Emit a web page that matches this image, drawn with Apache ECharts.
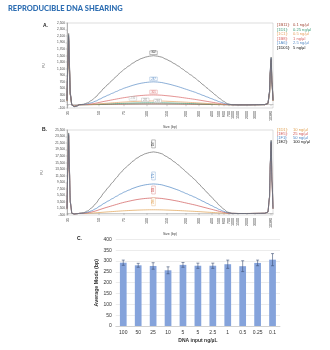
<!DOCTYPE html>
<html><head><meta charset="utf-8">
<script src="https://cdn.jsdelivr.net/npm/echarts@6/dist/echarts.min.js"></script>
<style>html,body{margin:0;padding:0;background:#fff}#c{width:330px;height:350px}</style>
</head><body><div id="c"></div>
<script>
// ---- shared migration-time grid (arbitrary units, 0..100) ----
const timeSec = [0,0.4,0.8,1.2,1.6,2.4,3.5,5,
 6,8,10,12,14,16,18,20,22,24,26,28,30,32,34,36,38,40,42,44,46,48,50,52,54,56,58,60,62,64,66,68,70,72,74,76,78,80,
 84,88,92,96, 97.5,98.3,98.7,99.1,99.5,100];
// ladder positions (time) and sizes (bp)
const ladderPos  = [0.6,15.5,27.7,38.8,48.5,57.8,64,70.4,73.8,76.2,78.6,80.6,83,87.4,91.3,99];
const ladderSize = ['35','50','75','100','150','200','300','400','500','600','700','1000','1500','2000','3000','10380'];

// ---- Panel A traces (FU) ----
const a_5   = [150,1300,2180,1200,350,-10,-60,-40, 0,15,60,135,240,375,510,630,750,870,990,1095,1185,1275,1350,1410,1455,1485,1500,1485,1455,1395,1335,1260,1185,1095,1005,915,825,720,615,510,405,300,195,105,30,0, -5,-5,0,5, 40,400,1100,1460,700,150];
const a_2_5 = [140,1250,2120,1150,330,-15,-55,-35, 0,7,28,63,112,175,238,294,350,406,462,511,553,595,630,658,679,693,700,693,679,651,623,588,553,511,469,427,385,336,287,238,189,140,91,49,14,0, -5,-4,0,4, 38,380,1060,1430,680,140];
const a_1   = [130,1200,2080,1120,320,-15,-50,-30, 0,3,12,27,48,75,102,126,150,174,198,219,237,255,270,282,291,297,300,297,291,279,267,252,237,219,201,183,165,144,123,102,81,60,39,21,6,0, -4,-3,0,3, 36,360,1020,1400,660,130];
const a_0_5 = [120,1150,2040,1090,310,-15,-45,-25, 0,1,5,10,18,29,39,48,58,67,76,84,91,98,104,108,112,114,115,114,112,107,102,97,91,84,77,70,63,55,47,39,31,23,15,8,2,0, -3,-2,0,3, 35,350,1000,1380,650,125];
const a_0_25= [115,1100,2000,1060,300,-15,-45,-25, 0,1,2,5,10,15,20,25,30,35,40,44,47,51,54,56,58,59,60,59,58,56,53,50,47,44,40,37,33,29,25,20,16,12,8,4,1,0, -3,-2,0,2, 34,340,980,1360,640,120];
const a_0_1 = [110,1080,1960,1040,290,-15,-40,-20, 0,0,1,3,4,7,10,12,14,16,18,20,22,24,25,26,27,28,28,28,27,26,25,24,22,20,19,17,15,13,11,10,8,6,4,2,1,0, -2,-2,0,2, 33,330,960,1340,630,115];

// ---- Panel B traces (FU) ----
const b_100 = [1500,14000,24600,13000,3500,0,-200,-100, 0,190,750,1690,3010,4700,6390,7900,9400,10900,12410,13720,14850,15980,16920,17670,18240,18610,18800,18610,18240,17480,16730,15790,14850,13720,12600,11470,10340,9020,7710,6390,5080,3760,2440,1320,380,0, -50,-50,0,50, 400,5000,16000,22400,10000,1500];
const b_50  = [1450,13600,24200,12700,3400,0,-200,-100, 0,90,360,810,1440,2250,3060,3780,4500,5220,5940,6570,7110,7650,8100,8460,8730,8910,9000,8910,8730,8370,8010,7560,7110,6570,6030,5490,4950,4320,3690,3060,2430,1800,1170,630,180,0, -50,-40,0,40, 380,4800,15600,22000,9800,1450];
const b_25  = [1400,13300,23900,12500,3300,0,-180,-90, 0,47,188,423,752,1175,1598,1974,2350,2726,3102,3431,3713,3995,4230,4418,4559,4653,4700,4653,4559,4371,4183,3948,3713,3431,3149,2867,2585,2256,1927,1598,1269,940,611,329,94,0, -40,-40,0,40, 370,4700,15300,21700,9600,1400];
const b_10  = [1350,13000,23600,12300,3200,0,-180,-90, 0,11,44,99,176,275,374,462,550,638,726,803,869,935,990,1034,1067,1089,1100,1089,1067,1023,979,924,869,803,737,671,605,528,451,374,297,220,143,77,22,0, -40,-30,0,30, 360,4600,15000,21400,9400,1350];

// legends
const legendCodesA = ['[1B11]:','[1D1]:','[1C1]:','[1B8]:','[1A6]:','[1D01]:'];
const legendDosesA = ['0.1 ng/\u00b5l','0.25 ng/\u00b5l','0.5 ng/\u00b5l','1 ng/\u00b5l','2.5 ng/\u00b5l','5 ng/\u00b5l'];
const legendCodesB = ['[1D1]:','[1E5]:','[1F1]:','[1E2]:'];
const legendDosesB = ['10 ng/\u00b5l','25 ng/\u00b5l','50 ng/\u00b5l','100 ng/\u00b5l'];
// peak mode labels (bp)
const peakLabelsA = ['298','281','231','301','287','302'];
const peakLabelsB = ['296','284','279','297'];

// ---- Panel C ----
const inputs = ['100','50','25','10','5','5','2.5','1','0.5','0.25','0.1'];
const modeMean = [292,280,277,257,282,278,278,285,276,291,306];
const modeErr  = [12,9,15,16,11,12,12,19,25,13,28];

const colA = ['#a34a3a','#3b9c78','#e7a264','#d86464','#5a8dc6','#6a6a6a'];
const colB = ['#e0a050','#d05858','#4f86c4','#6a6a6a'];

const chart = echarts.init(document.getElementById('c'), null, {renderer:'canvas'});

function traceAxes(min, max, step) {
  const yv = []; for (let v = min; v <= max; v += step) yv.push(v);
  return {
    x: {type:'value', gridIndex:0, min:0, max:100,
      name:'Size (bp)', nameLocation:'middle', nameGap:10, nameTextStyle:{fontSize:3.5,color:'#444'},
      axisLine:{lineStyle:{color:'#999',width:0.5}},
      axisTick:{show:true, customValues:ladderPos, length:1.5, lineStyle:{color:'#777',width:0.4}},
      axisLabel:{customValues:ladderPos, rotate:90, fontSize:3.6, color:'#333', margin:3,
        formatter:v=>{const i=ladderPos.indexOf(v);return i>=0?ladderSize[i]:'';}},
      splitLine:{show:false}},
    y: {type:'value', min:min, max:max,
      name:'FU', nameLocation:'middle', nameGap:12, nameTextStyle:{fontSize:3.5,color:'#444'},
      axisLine:{show:true,lineStyle:{color:'#888',width:0.6}},
      axisTick:{show:true, customValues:yv, length:1.5, lineStyle:{color:'#888',width:0.4}},
      axisLabel:{customValues:yv, fontSize:3.2, color:'#444', margin:2},
      splitLine:{show:false}}
  };
}
const axA = traceAxes(-100, 2500, 200);
const axB = traceAxes(-500, 25500, 2000);
axB.x.gridIndex = 1;

function pts(arr){ return timeSec.map((t,i)=>[t,arr[i]]); }
function peakIdx(arr){ let bi=8; for(let i=8;i<46;i++) if(arr[i]>arr[bi]) bi=i; return bi; }

function trace(arr, color, xi, label, labIdx, vertical, lblColor) {
  const i = labIdx != null ? labIdx : peakIdx(arr);
  return {type:'line', xAxisIndex:xi, yAxisIndex:xi, data:pts(arr), showSymbol:false,
    smooth:0.25, smoothMonotone:'x', lineStyle:{color:color,width:0.7}, z:3,
    markPoint:{symbol:'rect', symbolSize: vertical?[3.6,8]:[7.5,3.6], symbolOffset: vertical?[0,-8]:[0,-3],
      itemStyle:{color:'#fff',borderColor:lblColor||color,borderWidth:0.3},
      label:{show:true, formatter:label, fontSize:2.8, color:lblColor||color, rotate: vertical?90:0},
      data:[{coord:[timeSec[i], arr[i]]}], animation:false}};
}

const seriesA = [
  trace(a_0_1, colA[0], 0, peakLabelsA[0], 27, false, '#999'),
  trace(a_0_25, colA[1], 0, peakLabelsA[1], 24, false, '#999'),
  trace(a_0_5, colA[2], 0, peakLabelsA[2], 21, false, '#aaa'),
  trace(a_1, colA[3], 0, peakLabelsA[3], null, false),
  trace(a_2_5, colA[4], 0, peakLabelsA[4], null, false),
  trace(a_5, colA[5], 0, peakLabelsA[5], null, false, '#333'),
];
const seriesB = [
  trace(b_10, colB[0], 1, peakLabelsB[0], null, true),
  trace(b_25, colB[1], 1, peakLabelsB[1], null, true),
  trace(b_50, colB[2], 1, peakLabelsB[2], null, true),
  trace(b_100, colB[3], 1, peakLabelsB[3], null, true, '#333'),
];

const errData = inputs.map((c,i)=>[i, modeMean[i]-modeErr[i], modeMean[i]+modeErr[i]]);

const graphics = [
  {type:'text', left:8, top:5, style:{text:'REPRODUCIBLE DNA SHEARING', fill:'#2f6fb3', font:'900 7.5px Lato'}},
  {type:'text', left:43, top:23, style:{text:'A.', fill:'#222', font:'bold 5px Arial'}},
  {type:'text', left:42, top:127, style:{text:'B.', fill:'#222', font:'bold 5px Arial'}},
  {type:'text', left:77, top:236, style:{text:'C.', fill:'#222', font:'bold 5px Arial'}},
];
legendCodesA.forEach((c,i)=>{
  const col = i===5 ? '#111' : colA[i];
  graphics.push({type:'text', left:277, top:23+i*4.5, style:{text:c, fill:col, font:'4.1px Arial'}});
  graphics.push({type:'text', left:293, top:23+i*4.5, style:{text:legendDosesA[i], fill:col, font:'4.1px Arial'}});
});
legendCodesB.forEach((c,i)=>{
  const col = i===3 ? '#111' : colB[i];
  graphics.push({type:'text', left:277, top:128+i*4.1,  style:{text:c, fill:col, font:'4.1px Arial'}});
  graphics.push({type:'text', left:293, top:128+i*4.1,  style:{text:legendDosesB[i], fill:col, font:'4.1px Arial'}});
});

chart.setOption({
  animation:false,
  backgroundColor:'#fff',
  graphic: graphics,
  grid:[
    {left:67, top:23, width:206, height:85, show:true, borderColor:'#bbb', borderWidth:0.5},
    {left:67, top:130, width:206, height:85, show:true, borderColor:'#bbb', borderWidth:0.5},
    {left:115.8, top:239.3, width:164.2, height:86.7}
  ],
  xAxis:[axA.x, axB.x,
    {type:'category', gridIndex:2, data:inputs,
      name:'DNA input ng/\u00b5L', nameLocation:'middle', nameGap:12,
      nameTextStyle:{fontSize:5, fontWeight:'bold', color:'#333', fontFamily:'Arial'},
      axisLine:{lineStyle:{color:'#bfbfbf',width:0.6}}, axisTick:{show:false},
      axisLabel:{fontSize:5, color:'#333', margin:4, interval:0, fontFamily:'Arial'}}
  ],
  yAxis:[Object.assign({gridIndex:0}, axA.y), Object.assign({gridIndex:1}, axB.y),
    {type:'value', gridIndex:2, min:0, max:400, interval:50,
      name:'Average Mode (bp)', nameLocation:'middle', nameGap:17,
      nameTextStyle:{fontSize:5.3, fontWeight:'bold', color:'#333', fontFamily:'Arial'},
      axisLine:{show:false}, axisTick:{show:false},
      axisLabel:{fontSize:5, color:'#333', margin:4, fontFamily:'Arial'},
      splitLine:{lineStyle:{color:'#d9d9d9',width:0.5}}}
  ],
  series:[...seriesA, ...seriesB,
    {type:'bar', xAxisIndex:2, yAxisIndex:2, data:modeMean, barWidth:'45%',
      itemStyle:{color:'#85a3db'}},
    {type:'custom', xAxisIndex:2, yAxisIndex:2, data:errData, z:5,
      renderItem:(params, api)=>{
        const x = api.value(0);
        const lo = api.coord([x, api.value(1)]);
        const hi = api.coord([x, api.value(2)]);
        const w = 1.5;
        const st = {stroke:'#3d4f73', lineWidth:0.6};
        return {type:'group', children:[
          {type:'line', shape:{x1:lo[0],y1:lo[1],x2:hi[0],y2:hi[1]}, style:st},
          {type:'line', shape:{x1:hi[0]-w,y1:hi[1],x2:hi[0]+w,y2:hi[1]}, style:st},
          {type:'line', shape:{x1:lo[0]-w,y1:lo[1],x2:lo[0]+w,y2:lo[1]}, style:st}
        ]};
      }}
  ]
});
</script></body></html>
